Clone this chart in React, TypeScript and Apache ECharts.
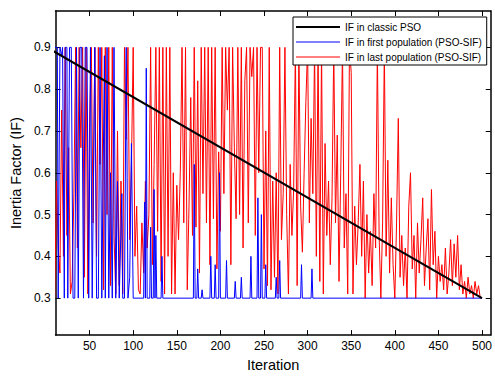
import React, { useEffect, useRef } from "react";
import * as echarts from "echarts";

// ---- data ----
const xTicks = [50, 100, 150, 200, 250, 300, 350, 400, 450, 500];
const yTicks = [0.3, 0.4, 0.5, 0.6, 0.7, 0.8, 0.9];

const classicIter = [1, 500];
const classicIF = [0.9, 0.3];

// IF in first population (PSO-SIF): [iteration, value]
const firstPop: [number, number][] = [
  [10, 0.9], [13, 0.9], [14, 0.3], [16, 0.9], [18, 0.88], [19, 0.9], [21, 0.3], [22, 0.9], [24, 0.9],
  [25, 0.3], [27, 0.9], [29, 0.9], [31, 0.3], [33, 0.3], [35, 0.9], [37, 0.3], [39, 0.9], [41, 0.9],
  [43, 0.3], [45, 0.9], [47, 0.9], [49, 0.3], [51, 0.9], [53, 0.3], [56, 0.9], [58, 0.3], [60, 0.3],
  [62, 0.9], [64, 0.3], [67, 0.88], [68, 0.3], [70, 0.9], [72, 0.3], [74, 0.6], [76, 0.3], [78, 0.9],
  [80, 0.3], [82, 0.58], [84, 0.3], [87, 0.55], [88, 0.3], [90, 0.3], [92, 0.9], [94, 0.3], [96, 0.35],
  [98, 0.67], [100, 0.3],
  [112, 0.3], [113, 0.53], [114, 0.3], [115, 0.85], [116, 0.3], [119, 0.3], [120, 0.47], [121, 0.3],
  [123, 0.3], [124, 0.56], [125, 0.3], [126, 0.45], [127, 0.3], [132, 0.3], [133, 0.4], [134, 0.3],
  [169, 0.3], [170, 0.62], [171, 0.3], [173, 0.3], [174, 0.37], [175, 0.3], [178, 0.3], [179, 0.32],
  [180, 0.3], [188, 0.3], [189, 0.4], [190, 0.3], [193, 0.3], [194, 0.38], [195, 0.3], [198, 0.3],
  [199, 0.6], [200, 0.3], [206, 0.3], [207, 0.39], [208, 0.3], [216, 0.3], [217, 0.34], [218, 0.3],
  [223, 0.3], [224, 0.35], [225, 0.3], [234, 0.3], [235, 0.4], [236, 0.3], [242, 0.3], [243, 0.54],
  [244, 0.3], [246, 0.3], [247, 0.5], [248, 0.3], [251, 0.3], [252, 0.38], [253, 0.3], [263, 0.3],
  [264, 0.35], [265, 0.3], [267, 0.3], [268, 0.39], [269, 0.3], [292, 0.3], [293, 0.38], [294, 0.3],
  [304, 0.3], [305, 0.37], [306, 0.3], [500, 0.3],
];

// IF in last population (PSO-SIF): one value every 2 iterations from 10 to 500
const lastStart = 10;
const lastStep = 2;
const lastPop = [
  0.30, 0.58, 0.42, 0.36, 0.75, 0.40, 0.90, 0.45, 0.66, 0.31,
  0.34, 0.55, 0.90, 0.42, 0.90, 0.66, 0.90, 0.35, 0.90, 0.31,
  0.72, 0.90, 0.48, 0.90, 0.40, 0.90, 0.62, 0.90, 0.32, 0.90,
  0.50, 0.90, 0.33, 0.90, 0.45, 0.31, 0.70, 0.33, 0.58, 0.31,
  0.90, 0.68, 0.90, 0.44, 0.62, 0.90, 0.40, 0.52, 0.32, 0.31,
  0.48, 0.36, 0.58, 0.42, 0.50, 0.90, 0.38, 0.62, 0.90, 0.46,
  0.90, 0.34, 0.90, 0.31, 0.90, 0.40, 0.90, 0.31, 0.60, 0.31,
  0.57, 0.44, 0.60, 0.90, 0.48, 0.90, 0.32, 0.52, 0.78, 0.45,
  0.90, 0.47, 0.82, 0.36, 0.90, 0.55, 0.90, 0.48, 0.90, 0.38,
  0.90, 0.49, 0.90, 0.37, 0.65, 0.46, 0.90, 0.55, 0.90, 0.75,
  0.90, 0.38, 0.90, 0.66, 0.49, 0.90, 0.50, 0.90, 0.42, 0.82,
  0.90, 0.48, 0.90, 0.83, 0.90, 0.45, 0.90, 0.60, 0.90, 0.90,
  0.37, 0.70, 0.33, 0.90, 0.32, 0.58, 0.35, 0.60, 0.31, 0.90,
  0.44, 0.55, 0.90, 0.50, 0.31, 0.62, 0.45, 0.56, 0.90, 0.33,
  0.90, 0.52, 0.41, 0.60, 0.77, 0.90, 0.48, 0.73, 0.55, 0.90,
  0.40, 0.90, 0.34, 0.90, 0.31, 0.67, 0.45, 0.58, 0.38, 0.54,
  0.90, 0.48, 0.69, 0.34, 0.60, 0.90, 0.42, 0.55, 0.31, 0.90,
  0.84, 0.31, 0.52, 0.38, 0.48, 0.62, 0.40, 0.58, 0.30, 0.50,
  0.36, 0.46, 0.33, 0.55, 0.42, 0.90, 0.45, 0.30, 0.48, 0.90,
  0.40, 0.63, 0.36, 0.54, 0.38, 0.30, 0.48, 0.73, 0.35, 0.45,
  0.33, 0.42, 0.30, 0.52, 0.60, 0.37, 0.45, 0.30, 0.48, 0.36,
  0.44, 0.54, 0.33, 0.42, 0.49, 0.32, 0.56, 0.38, 0.46, 0.30,
  0.40, 0.34, 0.38, 0.32, 0.42, 0.31, 0.36, 0.44, 0.33, 0.43,
  0.35, 0.45, 0.32, 0.38, 0.31, 0.34, 0.30, 0.35, 0.31, 0.33,
  0.30, 0.34, 0.31, 0.33, 0.30, 0.30,
];

const seriesNames = [
  "IF in classic PSO",
  "IF in first population (PSO-SIF)",
  "IF in last population (PSO-SIF)",
];
const seriesColors = ["#000000", "#0000ff", "#ff0000"];
const seriesWidths = [2, 1, 1];

const X_MIN = 11;
const X_MAX = 510;
const Y_MIN = 0.2116;
const Y_MAX = 0.987;

const FONT = "Arial, 'Liberation Sans', Helvetica, sans-serif";

export default function App() {
  const ref = useRef<HTMLDivElement>(null);

  useEffect(() => {
    if (!ref.current) return;
    const chart = echarts.init(ref.current, undefined, { renderer: "svg" });

    const classicData = classicIter.map((x, i) => [x, classicIF[i]]);
    const lastData = lastPop.map((v, i) => [lastStart + i * lastStep, v]);

    const axisCommon = {
      type: "value" as const,
      splitLine: { show: false },
      axisLine: { show: true, onZero: false, lineStyle: { color: "#000", width: 1.5 } },
    };

    chart.setOption({
      animation: false,
      backgroundColor: "#fff",
      grid: { left: 54, right: 1, top: 11, bottom: 37, containLabel: false },
      xAxis: [
        {
          ...axisCommon,
          min: X_MIN,
          max: X_MAX,
          position: "bottom",
          axisTick: { show: true, inside: true, length: 5, customValues: xTicks, lineStyle: { color: "#000" } },
          axisLabel: { customValues: xTicks, color: "#000", fontSize: 12, fontFamily: FONT, margin: 5 },
          name: "Iteration",
          nameLocation: "middle",
          nameGap: 20,
          nameTextStyle: { color: "#000", fontSize: 14.5, fontFamily: FONT },
        },
        {
          ...axisCommon,
          min: X_MIN,
          max: X_MAX,
          position: "top",
          axisTick: { show: true, inside: true, length: 5, customValues: xTicks, lineStyle: { color: "#000" } },
          axisLabel: { show: false },
        },
      ],
      yAxis: [
        {
          ...axisCommon,
          min: Y_MIN,
          max: Y_MAX,
          position: "left",
          axisTick: { show: true, inside: true, length: 5, customValues: yTicks, lineStyle: { color: "#000" } },
          axisLabel: {
            customValues: yTicks,
            color: "#000",
            fontSize: 12,
            fontFamily: FONT,
            margin: 5,
            formatter: (v: number) => v.toFixed(1),
          },
          name: "Inertia Factor (IF)",
          nameLocation: "middle",
          nameGap: 26,
          nameTextStyle: { color: "#000", fontSize: 14.5, fontFamily: FONT },
        },
        {
          ...axisCommon,
          min: Y_MIN,
          max: Y_MAX,
          position: "right",
          axisTick: { show: true, inside: true, length: 5, customValues: yTicks, lineStyle: { color: "#000" } },
          axisLabel: { show: false },
        },
      ],
      legend: {
        data: seriesNames.map((n, i) => ({
          name: n,
          itemStyle: { opacity: 0 },
          lineStyle: { color: seriesColors[i], width: seriesWidths[i], opacity: 1 },
        })),
        orient: "vertical",
        left: 293,
        top: 17,
        padding: [5, 5, 3, 2],
        itemGap: 5,
        itemWidth: 44,
        itemHeight: 11,
        backgroundColor: "#fff",
        borderColor: "#000",
        borderWidth: 1,
        borderRadius: 0,
        selectedMode: false,
        textStyle: { color: "#000", fontSize: 10, fontFamily: FONT },
      },
      series: [
        {
          name: seriesNames[2],
          type: "line",
          data: lastData,
          symbol: "none",
          showSymbol: false,
          clip: true,
          lineStyle: { color: seriesColors[2], width: seriesWidths[2] },
          itemStyle: { color: seriesColors[2] },
          z: 2,
        },
        {
          name: seriesNames[1],
          type: "line",
          data: firstPop,
          symbol: "none",
          showSymbol: false,
          clip: true,
          lineStyle: { color: seriesColors[1], width: seriesWidths[1] },
          itemStyle: { color: seriesColors[1] },
          z: 3,
        },
        {
          name: seriesNames[0],
          type: "line",
          data: classicData,
          symbol: "none",
          showSymbol: false,
          clip: true,
          lineStyle: { color: seriesColors[0], width: seriesWidths[0] },
          itemStyle: { color: seriesColors[0] },
          z: 4,
        },
      ],
    });

    return () => chart.dispose();
  }, []);

  return <div ref={ref} style={{ width: 495, height: 377, position: "absolute", left: 0, top: 0 }} />;
}
